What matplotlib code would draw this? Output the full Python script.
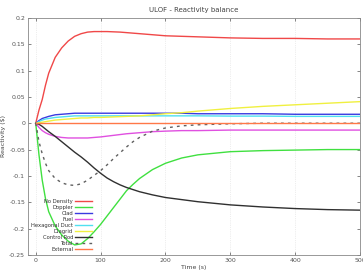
import matplotlib
matplotlib.use("Agg")
import matplotlib.pyplot as plt
from matplotlib.ticker import FuncFormatter

time_s = [0, 5, 10, 15, 20, 30, 40, 50, 60, 70, 80, 90, 100, 110, 120, 130,
          140, 150, 160, 180, 200, 225, 250, 300, 350, 400, 450, 500]

no_density = [0, 0.025, 0.045, 0.072, 0.095, 0.125, 0.143, 0.156, 0.165, 0.170,
              0.173, 0.174, 0.174, 0.174, 0.1735, 0.173, 0.172, 0.171, 0.170,
              0.168, 0.166, 0.165, 0.164, 0.162, 0.161, 0.161, 0.160, 0.160]
doppler = [0, -0.06, -0.108, -0.143, -0.168, -0.195, -0.212, -0.224, -0.231,
           -0.229, -0.219, -0.206, -0.192, -0.176, -0.160, -0.144, -0.128,
           -0.116, -0.105, -0.088, -0.076, -0.066, -0.060, -0.054, -0.052,
           -0.051, -0.050, -0.050]
clad = [0, 0.005, 0.009, 0.011, 0.013, 0.016, 0.017, 0.018, 0.019, 0.019,
        0.019, 0.019, 0.019, 0.019, 0.019, 0.019, 0.019, 0.019, 0.019, 0.019,
        0.019, 0.019, 0.018, 0.018, 0.018, 0.017, 0.017, 0.017]
fuel = [0, -0.008, -0.014, -0.018, -0.021, -0.025, -0.027, -0.028, -0.028,
        -0.028, -0.028, -0.027, -0.026, -0.0245, -0.023, -0.0215, -0.020,
        -0.019, -0.018, -0.016, -0.015, -0.014, -0.014, -0.013, -0.013,
        -0.013, -0.013, -0.013]
hex_duct = [0, 0.003, 0.006, 0.008, 0.009, 0.011, 0.012, 0.013, 0.014, 0.014,
            0.014, 0.014, 0.014, 0.014, 0.014, 0.014, 0.014, 0.014, 0.014,
            0.014, 0.014, 0.014, 0.014, 0.0135, 0.0135, 0.013, 0.013, 0.013]
diagrid = [0, 0.001, 0.002, 0.003, 0.004, 0.006, 0.007, 0.008, 0.009, 0.010,
           0.010, 0.011, 0.011, 0.0115, 0.012, 0.0125, 0.013, 0.0135, 0.014,
           0.016, 0.018, 0.020, 0.023, 0.028, 0.032, 0.035, 0.038, 0.041]
control_rod = [0, -0.002, -0.006, -0.011, -0.016, -0.025, -0.035, -0.045,
               -0.055, -0.064, -0.074, -0.085, -0.095, -0.104, -0.111, -0.117,
               -0.122, -0.126, -0.130, -0.136, -0.141, -0.145, -0.149, -0.155,
               -0.159, -0.162, -0.164, -0.165]
total = [0, -0.035, -0.058, -0.076, -0.090, -0.105, -0.113, -0.117, -0.118,
         -0.115, -0.108, -0.099, -0.090, -0.079, -0.067, -0.056, -0.045,
         -0.035, -0.027, -0.015, -0.009, -0.005, -0.003, -0.001, 0, 0, 0, 0]
external = [0] * len(time_s)

series = [
    ("No Density", no_density, "#f04848", "-"),
    ("Doppler", doppler, "#40e040", "-"),
    ("Clad", clad, "#3a3ae0", "-"),
    ("Fuel", fuel, "#e050e0", "-"),
    ("Hexagonal Duct", hex_duct, "#50e0f0", "-"),
    ("Diagrid", diagrid, "#f0f040", "-"),
    ("Control Rod", control_rod, "#303030", "-"),
    ("Total", total, "#606060", (0, (2, 3))),
    ("External", external, "#ff7848", "-"),
]

fig = plt.figure(figsize=(3.63, 2.75), dpi=100)
ax = fig.add_axes([0.077, 0.073, 0.915, 0.862])

for label, vals, color, ls in series:
    ax.plot(time_s, vals, color=color, linestyle=ls, linewidth=1.0, label=label)

ax.set_xlim(-12, 500)
ax.set_ylim(-0.25, 0.2)
ax.set_xticks([0, 100, 200, 300, 400, 500])
ax.set_yticks([-0.25, -0.2, -0.15, -0.1, -0.05, 0, 0.05, 0.1, 0.15, 0.2])
ax.yaxis.set_major_formatter(FuncFormatter(lambda v, p: "%g" % round(v, 3)))
ax.tick_params(direction="in", length=2, width=0.5, labelsize=4.5,
               colors="#555555", top=True, right=True, pad=2)
ax.grid(axis="x", color="#dddddd", linestyle=":", linewidth=0.5)
for s in ax.spines.values():
    s.set_color("#888888")
    s.set_linewidth(0.6)

ax.set_title("ULOF - Reactivity balance", fontsize=5, color="#444444", pad=4)
ax.set_xlabel("Time (s)", fontsize=4.5, color="#444444", labelpad=2)
ax.set_ylabel("Reactivity ($)", fontsize=4.5, color="#444444", labelpad=2)

leg = ax.legend(loc="lower left", bbox_to_anchor=(0.0, 0.0), fontsize=3.8,
                frameon=False, markerfirst=False, handlelength=3.2,
                labelspacing=0.18, handletextpad=0.4, borderaxespad=0.2)
for txt in leg.get_texts():
    txt.set_color("#333333")

fig.savefig("out.png", dpi=100)
